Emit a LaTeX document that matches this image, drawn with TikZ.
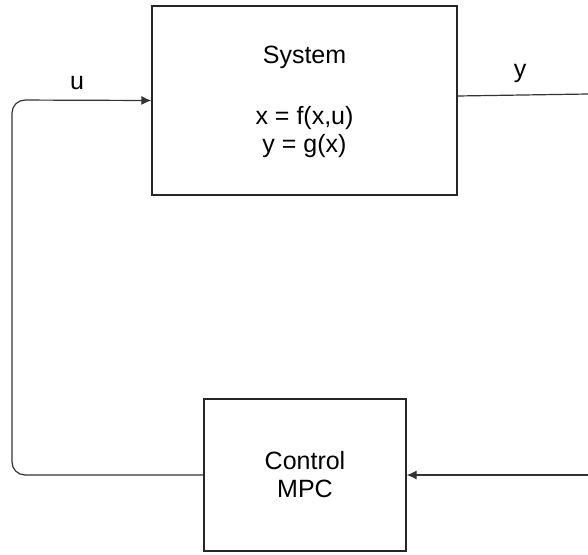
\documentclass[tikz,border=0pt]{standalone}
\usepackage{fontspec}
\setmainfont{Liberation Sans}
\usetikzlibrary{arrows.meta}
\begin{document}
\begin{tikzpicture}[x=1pt,y=-1pt,
  block/.style={draw=black!85,line width=1.2pt,fill=white,inner sep=0pt,
    align=center,font=\fontsize{25}{28}\selectfont},
  wire/.style={draw=black!80,line width=1.2pt},
  tip/.style={-{Latex[length=10pt,width=9pt]}},
  lbl/.style={font=\fontsize{25}{28}\selectfont,inner sep=0pt}]
\useasboundingbox (0,0) rectangle (588,554);
% plant block
\node[block,minimum width=305pt,minimum height=189pt] (sys) at (304.5,100.5) {};
\node[lbl,align=center] (systitle) at (304.5,57) {System};
\node[lbl,align=center] (syseq) at (304.5,132) {x = f(x,u)\\y = g(x)};
% controller block
\node[block,minimum width=202pt,minimum height=152pt] (mpc) at (305,475) {Control\\MPC};
% signal labels
\node[lbl] (ulbl) at (77,83) {u};
\node[lbl] (ylbl) at (520,73) {y};
% loose ends at the right border
\coordinate (yout) at (588,94);
\coordinate (yin) at (588,475);
% connectors
\draw[wire] (sys.east |- 0,96) -- (yout);
\draw[wire,tip] (yin) -- (mpc.east);
\draw[wire,tip,rounded corners=13pt] (mpc.west) -- (12,475) -- (12,100) -- (sys.west);
\end{tikzpicture}
\end{document}
